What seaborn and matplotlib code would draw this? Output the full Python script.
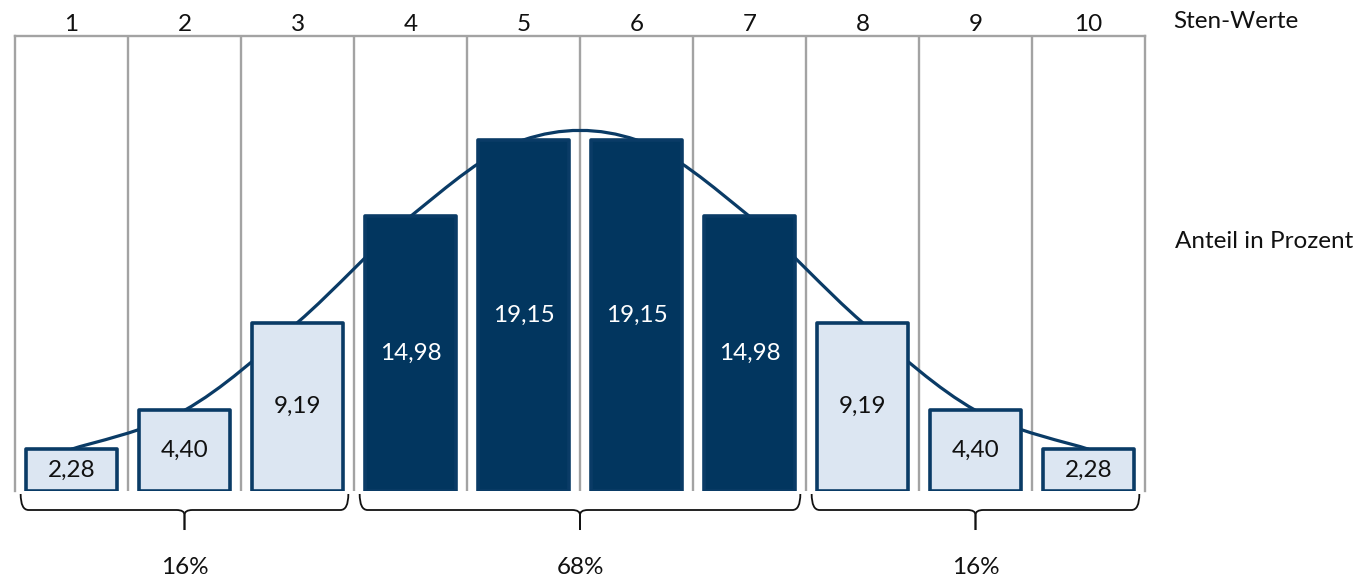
import matplotlib
matplotlib.use("Agg")
import matplotlib.pyplot as plt
from matplotlib.path import Path
from matplotlib.patches import PathPatch
import seaborn as sns
import pandas as pd
import numpy as np

# ---- data ----
sten = ["1", "2", "3", "4", "5", "6", "7", "8", "9", "10"]
anteil = [2.28, 4.40, 9.19, 14.98, 19.15, 19.15, 14.98, 9.19, 4.40, 2.28]
gruppe = ["Rand", "Rand", "Rand", "Mitte", "Mitte", "Mitte", "Mitte", "Rand", "Rand", "Rand"]
value_labels = ["2,28", "4,40", "9,19", "14,98", "19,15", "19,15", "14,98", "9,19", "4,40", "2,28"]
brace_groups = [(0, 2), (3, 6), (7, 9)]
brace_labels = ["16%", "68%", "16%"]
label_top = "Sten-Werte"
label_side = "Anteil in Prozent"

navy = "#02365f"
edge = "#0a3b66"
light = "#dce6f2"
grid_c = "#a3a3a3"
txt = "#111111"

sns.set_theme(style="white")
plt.rcParams["font.family"] = ["Lato", "DejaVu Sans"]

fig = plt.figure(figsize=(13.68, 5.78), dpi=100)
ax = fig.add_axes([15 / 1368, (578 - 491) / 578, 1130 / 1368, 455 / 578])

df = pd.DataFrame({"Sten": sten, "Anteil": anteil, "Gruppe": gruppe})
sns.barplot(data=df, x="Sten", y="Anteil", hue="Gruppe", order=sten,
            palette={"Rand": light, "Mitte": navy}, dodge=False, width=0.8,
            saturation=1, edgecolor=edge, linewidth=2.6, legend=False, ax=ax,
            zorder=3)
for p in ax.patches:
    p.set_joinstyle("round")

# smoothed connecting line (Catmull-Rom style, like a spreadsheet "smoothed line")
xs = np.arange(len(anteil), dtype=float)
ys = np.array(anteil, dtype=float)
pts = np.column_stack([xs, ys])
verts = [tuple(pts[0])]
codes = [Path.MOVETO]
n = len(pts)
for i in range(n - 1):
    p0 = pts[max(i - 1, 0)]
    p1 = pts[i]
    p2 = pts[i + 1]
    p3 = pts[min(i + 2, n - 1)]
    c1 = p1 + (p2 - p0) / 6.0
    c2 = p2 - (p3 - p1) / 6.0
    verts += [tuple(c1), tuple(c2), tuple(p2)]
    codes += [Path.CURVE4] * 3
ax.add_patch(PathPatch(Path(verts, codes), facecolor="none", edgecolor=edge,
                       lw=2.3, zorder=2, capstyle="round"))

# value labels
for i, (v, t, g) in enumerate(zip(anteil, value_labels, gruppe)):
    ax.text(i, v / 2, t, ha="center", va="center", fontsize=17.5,
            color="white" if g == "Mitte" else txt, zorder=5)

# axes styling
ax.set_xlim(-0.5, len(sten) - 0.5)
ax.set_ylim(0, 24.82)
ax.set_ylabel("")
ax.set_xlabel("")
ax.set_yticks([])
ax.xaxis.tick_top()
ax.set_xticks(range(len(sten)))
ax.set_xticklabels(sten, fontsize=17.5, color=txt)
ax.tick_params(axis="x", length=0, pad=1)
ax.set_xticks(np.arange(0.5, len(sten) - 1, 1.0), minor=True)
ax.tick_params(axis="x", which="minor", length=0)
ax.grid(False)
ax.grid(True, which="minor", axis="x", color=grid_c, lw=1.7, zorder=0)
ax.set_axisbelow(True)
for s in ["top", "left", "right"]:
    ax.spines[s].set_color(grid_c)
    ax.spines[s].set_linewidth(1.7)
ax.spines["bottom"].set_visible(False)

# braces below groups
pxu = 1 / 18.33
y_top = -3 * pxu
y_h = -19 * pxu
y_tip = -39 * pxu
inset = 0.45
dx = 0.07
dy = 5 * pxu
for (a, b), lab in zip(brace_groups, brace_labels):
    x0 = a - inset
    x1 = b + inset
    xc = (a + b) / 2.0
    for xe, sgn in [(x0, 1), (x1, -1)]:
        v = [(xe, y_top), (xe, y_h), (xe + sgn * dx, y_h),
             (xc - sgn * dx, y_h), (xc, y_h), (xc, y_h - dy), (xc, y_tip)]
        c = [Path.MOVETO, Path.CURVE3, Path.CURVE3, Path.LINETO,
             Path.CURVE3, Path.CURVE3, Path.LINETO]
        ax.add_patch(PathPatch(Path(v, c), facecolor="none", edgecolor=txt,
                               lw=1.3, clip_on=False, zorder=4))
    ax.text(xc, -76 * pxu, lab, ha="center", va="center", fontsize=17.5,
            color=txt, clip_on=False)

fig.text(1173 / 1368, 1 - 22 / 578, label_top, ha="left", va="center",
         fontsize=17.5, color=txt)
fig.text(1175 / 1368, 1 - 241 / 578, label_side, ha="left", va="center",
         fontsize=17.5, color=txt)

fig.savefig("out.png", dpi=100, facecolor="white")
